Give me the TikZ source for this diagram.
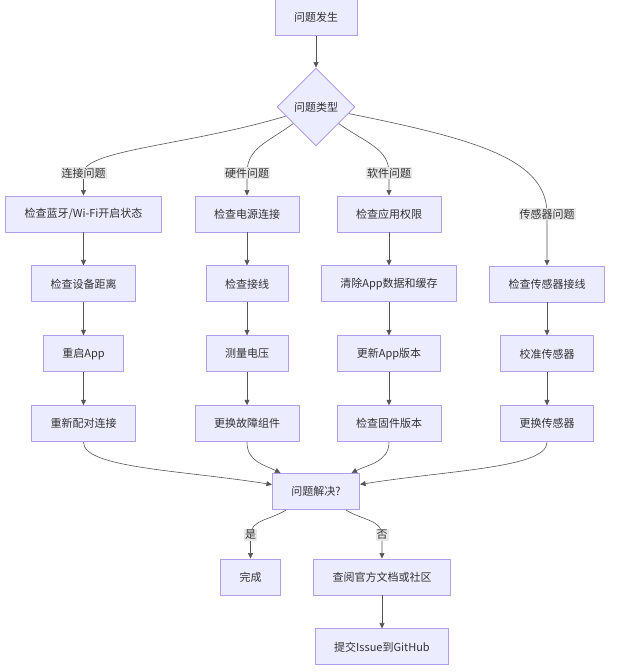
\documentclass[tikz,border=0pt]{standalone}
\usepackage{fontspec}
\newfontfamily\cjk{Noto Sans CJK SC}
\usetikzlibrary{positioning,arrows.meta,shapes.geometric}

\definecolor{boxfill}{HTML}{ECECFF}
\definecolor{boxline}{HTML}{B39DE8}
\definecolor{linegray}{HTML}{333333}
\definecolor{wiregray}{HTML}{555555}
\definecolor{lblgray}{HTML}{E8E8E8}

\begin{document}
\begin{tikzpicture}[
    x=1pt, y=-1pt,
    font=\cjk\fontsize{11}{13}\selectfont,
    text=linegray,
    line join=round,
    node distance=33pt,
    stepbox/.style={draw=boxline, fill=boxfill, line width=0.9pt,
        minimum height=36pt, inner xsep=19pt, inner ysep=2pt},
    choice/.style={diamond, draw=boxline, fill=boxfill, line width=0.9pt,
        minimum width=78pt, minimum height=78pt, inner sep=0pt},
    lbl/.style={fill=lblgray, inner sep=1pt},
    flow/.style={-{Triangle[length=5.5pt,width=5pt]}, draw=wiregray, line width=0.6pt}
]
\useasboundingbox (0,0) rectangle (642,672);

% Top
\node[stepbox] (start) at (316,17.5) {问题发生};
\node[choice] (type) at (316,107) {问题类型};

% Branch heads
\node[stepbox] (conn1) at (83.5,214) {检查蓝牙/Wi-Fi开启状态};
\node[stepbox] (hw1) at (247,214) {检查电源连接};
\node[stepbox] (sw1) at (389,214) {检查应用权限};

% Connection branch
\node[stepbox, below=of conn1] (conn2) {检查设备距离};
\node[stepbox, below=of conn2] (conn3) {重启App};
\node[stepbox, below=of conn3] (conn4) {重新配对连接};

% Hardware branch
\node[stepbox, below=of hw1] (hw2) {检查接线};
\node[stepbox, below=of hw2] (hw3) {测量电压};
\node[stepbox, below=of hw3] (hw4) {更换故障组件};

% Software branch
\node[stepbox, below=of sw1] (sw2) {清除App数据和缓存};
\node[stepbox, below=of sw2] (sw3) {更新App版本};
\node[stepbox, below=of sw3] (sw4) {检查固件版本};

% Sensor branch
\node[stepbox] (sen1) at (547,284) {检查传感器接线};
\node[stepbox, below=of sen1] (sen2) {校准传感器};
\node[stepbox, below=of sen2] (sen3) {更换传感器};

% Result
\node[stepbox] (res) at (316,491.5) {问题解决?};
\node[stepbox] (done) at (250.5,577) {完成};
\node[stepbox] (docs) at (382,577) {查阅官方文档或社区};
\node[stepbox, below=of docs] (issue) {提交Issue到GitHub};

% Flow arrows
\draw[flow] (start) -- (type);
\draw[flow] (type) .. controls (190,145) and (83.5,150) .. (83.5,173)
    node[lbl] {连接问题} -- (conn1);
\draw[flow] (type) .. controls (268,142) and (247,148) .. (247,173)
    node[lbl] {硬件问题} -- (hw1);
\draw[flow] (type) .. controls (364,142) and (389,148) .. (389,173)
    node[lbl] {软件问题} -- (sw1);
\draw[flow] (type) .. controls (480,140) and (547,160) .. (547,214)
    node[lbl] {传感器问题} -- (sen1);

\foreach \b in {conn,hw,sw}{
  \draw[flow] (\b1) -- (\b2);
  \draw[flow] (\b2) -- (\b3);
  \draw[flow] (\b3) -- (\b4);
}
\draw[flow] (sen1) -- (sen2);
\draw[flow] (sen2) -- (sen3);

\draw[flow] (conn4.south) .. controls (83.5,468) and (180,470) .. (res);
\draw[flow] (hw4.south) .. controls (247,462) and (265,465) .. (res);
\draw[flow] (sw4.south) .. controls (389,462) and (367,465) .. (res);
\draw[flow] (sen3.south) .. controls (547,468) and (450,470) .. (res);

\draw[flow] (res) .. controls (270,520) and (250.5,520) .. (250.5,535)
    node[lbl] {是} -- (done);
\draw[flow] (res) .. controls (362,520) and (382,520) .. (382,535)
    node[lbl] {否} -- (docs);
\draw[flow] (docs) -- (issue);

\end{tikzpicture}
\end{document}
